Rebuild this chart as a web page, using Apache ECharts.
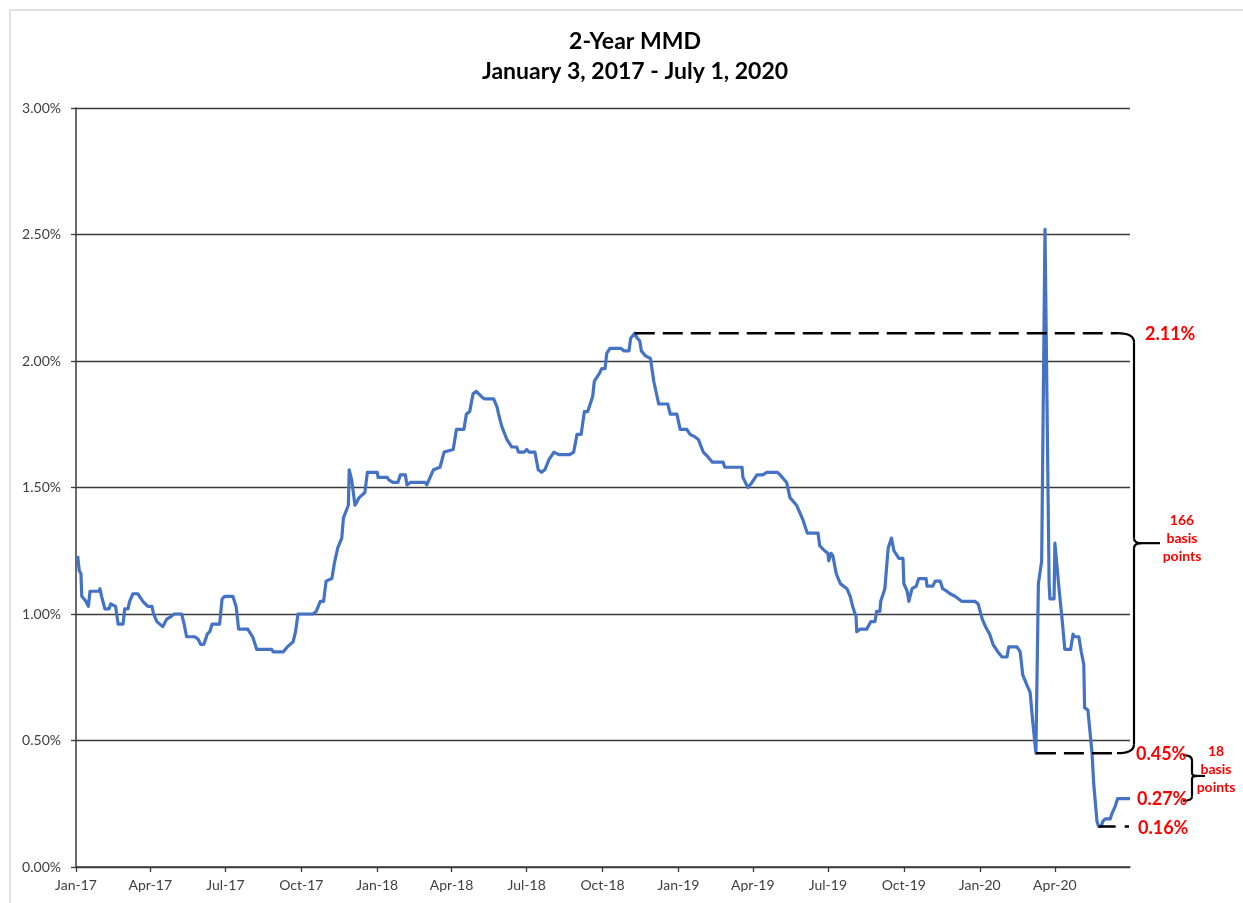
<!DOCTYPE html>
<html>
<head>
<meta charset="utf-8">
<script src="https://cdn.jsdelivr.net/npm/echarts@6/dist/echarts.min.js"></script>
<style>
  html, body { margin: 0; padding: 0; background: #ffffff; }
  #chart { width: 1243px; height: 903px; }
</style>
</head>
<body>
<div id="chart"></div>
<script>
// 2-Year MMD yield, Jan 3 2017 - Jul 1 2020 (percent)
const titleLines = ['2-Year MMD', 'January 3, 2017 - July 1, 2020'];

const dates = [
  '2017-01-03','2017-01-05','2017-01-07','2017-01-08','2017-01-13','2017-01-16','2017-01-18','2017-01-29','2017-01-30',
  '2017-02-01','2017-02-05','2017-02-10','2017-02-12','2017-02-18','2017-02-21','2017-02-27','2017-03-01','2017-03-05',
  '2017-03-07','2017-03-11','2017-03-17','2017-03-23','2017-03-29','2017-04-03','2017-04-05','2017-04-09','2017-04-16',
  '2017-04-21','2017-04-26','2017-04-30','2017-05-09','2017-05-12','2017-05-15','2017-05-25','2017-05-29','2017-06-01',
  '2017-06-05','2017-06-09','2017-06-12','2017-06-15','2017-06-24','2017-06-27','2017-06-30','2017-07-10','2017-07-14',
  '2017-07-17','2017-07-28','2017-08-03','2017-08-08','2017-08-26','2017-08-28','2017-09-09','2017-09-14','2017-09-21',
  '2017-09-24','2017-09-27','2017-10-15','2017-10-19','2017-10-24','2017-10-28','2017-10-31','2017-11-07','2017-11-10',
  '2017-11-14','2017-11-19','2017-11-21','2017-11-27','2017-11-28','2017-12-01','2017-12-05','2017-12-10','2017-12-17',
  '2017-12-20','2018-01-01','2018-01-02','2018-01-13','2018-01-15','2018-01-20','2018-01-26','2018-01-29','2018-02-04',
  '2018-02-06','2018-02-10','2018-02-28','2018-03-02','2018-03-10','2018-03-18','2018-03-23','2018-04-03','2018-04-07',
  '2018-04-16','2018-04-19','2018-04-23','2018-04-27','2018-05-01','2018-05-07','2018-05-11','2018-05-22','2018-05-26',
  '2018-05-28','2018-06-01','2018-06-07','2018-06-13','2018-06-19','2018-06-21','2018-06-28','2018-07-01','2018-07-04',
  '2018-07-11','2018-07-15','2018-07-19','2018-07-23','2018-07-28','2018-08-03','2018-08-09','2018-08-22','2018-08-27',
  '2018-08-31','2018-09-05','2018-09-09','2018-09-13','2018-09-19','2018-09-21','2018-09-27','2018-09-30','2018-10-04',
  '2018-10-06','2018-10-10','2018-10-23','2018-10-27','2018-11-02','2018-11-04','2018-11-09','2018-11-12','2018-11-15',
  '2018-11-17','2018-11-22','2018-11-28','2018-12-02','2018-12-04','2018-12-08','2018-12-19','2018-12-22','2018-12-30',
  '2019-01-03','2019-01-11','2019-01-15','2019-01-21','2019-01-25','2019-01-31','2019-02-06','2019-02-11','2019-02-24',
  '2019-02-26','2019-03-19','2019-03-20','2019-03-26','2019-03-31','2019-04-06','2019-04-13','2019-04-18','2019-05-01',
  '2019-05-04','2019-05-12','2019-05-16','2019-05-24','2019-06-01','2019-06-06','2019-06-19','2019-06-21','2019-06-27',
  '2019-07-01','2019-07-02','2019-07-05','2019-07-07','2019-07-11','2019-07-16','2019-07-24','2019-07-28','2019-07-31',
  '2019-08-04','2019-08-05','2019-08-09','2019-08-17','2019-08-22','2019-08-27','2019-08-29','2019-09-02','2019-09-03',
  '2019-09-08','2019-09-12','2019-09-16','2019-09-19','2019-09-25','2019-09-30','2019-10-01','2019-10-05','2019-10-07',
  '2019-10-11','2019-10-16','2019-10-19','2019-10-28','2019-10-29','2019-11-05','2019-11-08','2019-11-14','2019-11-17',
  '2019-11-22','2019-11-26','2019-12-02','2019-12-06','2019-12-10','2019-12-26','2019-12-30','2020-01-04','2020-01-08',
  '2020-01-13','2020-01-17','2020-01-23','2020-01-28','2020-02-03','2020-02-05','2020-02-15','2020-02-19','2020-02-22',
  '2020-02-27','2020-03-02','2020-03-05','2020-03-09','2020-03-12','2020-03-16','2020-03-20','2020-03-25','2020-03-26',
  '2020-03-31','2020-04-01','2020-04-06','2020-04-10','2020-04-13','2020-04-20','2020-04-23','2020-04-25','2020-04-30',
  '2020-05-03','2020-05-06','2020-05-07','2020-05-11','2020-05-16','2020-05-18','2020-05-22','2020-05-24','2020-05-27',
  '2020-05-29','2020-06-01','2020-06-07','2020-06-09','2020-06-13','2020-06-16','2020-07-01'
];

const yields = [
  1.23,1.17,1.16,1.07,1.05,1.03,1.09,1.09,1.10,
  1.07,1.02,1.02,1.04,1.03,0.96,0.96,1.02,1.02,
  1.05,1.08,1.08,1.05,1.03,1.03,1.00,0.97,0.95,
  0.98,0.99,1.00,1.00,0.96,0.91,0.91,0.90,0.88,
  0.88,0.92,0.93,0.96,0.96,1.06,1.07,1.07,1.03,
  0.94,0.94,0.91,0.86,0.86,0.85,0.85,0.87,0.89,
  0.93,1.00,1.00,1.01,1.05,1.05,1.13,1.14,1.20,
  1.26,1.30,1.38,1.43,1.57,1.53,1.43,1.46,1.48,
  1.56,1.56,1.54,1.54,1.53,1.52,1.52,1.55,1.55,
  1.51,1.52,1.52,1.51,1.57,1.58,1.64,1.65,1.73,
  1.73,1.79,1.80,1.87,1.88,1.86,1.85,1.85,1.82,
  1.79,1.74,1.69,1.66,1.66,1.64,1.64,1.65,1.64,
  1.64,1.57,1.56,1.57,1.61,1.64,1.63,1.63,1.64,
  1.71,1.71,1.80,1.80,1.86,1.92,1.95,1.97,1.97,
  2.03,2.05,2.05,2.04,2.04,2.09,2.11,2.09,2.08,
  2.04,2.02,2.01,1.92,1.92,1.83,1.83,1.79,1.79,
  1.73,1.73,1.71,1.70,1.69,1.64,1.62,1.60,1.60,
  1.58,1.58,1.54,1.50,1.52,1.55,1.55,1.56,1.56,
  1.55,1.52,1.46,1.43,1.37,1.32,1.32,1.27,1.25,
  1.24,1.21,1.24,1.23,1.16,1.12,1.10,1.07,1.03,
  0.99,0.93,0.94,0.94,0.97,0.97,1.01,1.01,1.05,
  1.10,1.26,1.30,1.25,1.22,1.22,1.12,1.09,1.05,
  1.10,1.11,1.14,1.14,1.11,1.11,1.13,1.13,1.10,
  1.09,1.08,1.07,1.06,1.05,1.05,1.04,0.98,0.95,
  0.92,0.88,0.85,0.83,0.83,0.87,0.87,0.85,0.76,
  0.72,0.69,0.58,0.45,1.12,1.21,2.52,1.12,1.06,
  1.06,1.28,1.10,0.97,0.86,0.86,0.92,0.91,0.91,
  0.85,0.80,0.63,0.62,0.45,0.33,0.18,0.16,0.16,
  0.18,0.19,0.19,0.21,0.24,0.27,0.27
];

const tickDates = [
  '2017-01-01','2017-04-01','2017-07-01','2017-10-01','2018-01-01','2018-04-01','2018-07-01',
  '2018-10-01','2019-01-01','2019-04-01','2019-07-01','2019-10-01','2020-01-01','2020-04-01'
];
const tickLabels = [
  'Jan-17','Apr-17','Jul-17','Oct-17','Jan-18','Apr-18','Jul-18',
  'Oct-18','Jan-19','Apr-19','Jul-19','Oct-19','Jan-20','Apr-20'
];
const axisStart = '2017-01-01';
const axisEnd = '2020-07-01';

// Highlighted levels
const peakDate = '2018-11-09';
const peakValue = 2.11;
const marchLowDate = '2020-03-09';
const marchLowValue = 0.45;
const troughDate = '2020-05-24';
const troughValue = 0.16;
const latestValue = 0.27;

function toTime(s) {
  const p = s.split('-').map(Number);
  return Date.UTC(p[0], p[1] - 1, p[2]);
}

const tickTimes = tickDates.map(toTime);
const seriesData = dates.map((d, i) => [toTime(d), yields[i]]);

const FONT = 'Lato, "Open Sans", sans-serif';
const AXIS_DARK = '#3a3a3a';
const LABEL_GREY = '#404040';
const RED = '#ff0000';

const chart = echarts.init(document.getElementById('chart'), null, { renderer: 'canvas' });

chart.setOption({
  animation: false,
  backgroundColor: '#ffffff',
  title: {
    text: titleLines.join('\n'),
    left: 630,
    textAlign: 'center',
    top: 22,
    textStyle: { fontFamily: FONT, fontWeight: 'bold', fontSize: 23, lineHeight: 30, color: '#000000' }
  },
  grid: { left: 76, right: 113, top: 108, bottom: 36 },
  xAxis: {
    // time stored as UTC milliseconds; quarterly ticks placed explicitly
    type: 'value',
    min: toTime(axisStart),
    max: toTime(axisEnd),
    axisLine: { show: true, onZero: false, lineStyle: { color: AXIS_DARK, width: 1.5 } },
    axisTick: { show: true, customValues: tickTimes, length: 5, lineStyle: { color: AXIS_DARK, width: 1.3 } },
    axisLabel: {
      customValues: tickTimes,
      formatter: v => { const i = tickTimes.indexOf(v); return i >= 0 ? tickLabels[i] : ''; },
      fontFamily: FONT, fontSize: 14, color: LABEL_GREY, margin: 11
    },
    splitLine: { show: false }
  },
  yAxis: {
    type: 'value',
    min: 0,
    max: 3,
    interval: 0.5,
    axisLine: { show: true, lineStyle: { color: AXIS_DARK, width: 1.5 } },
    axisTick: { show: true, length: 5, lineStyle: { color: AXIS_DARK, width: 1.3 } },
    axisLabel: {
      formatter: v => v.toFixed(2) + '%',
      fontFamily: FONT, fontSize: 14, color: LABEL_GREY, margin: 15
    },
    splitLine: { show: true, lineStyle: { color: AXIS_DARK, width: 1.3 } }
  },
  series: [{
    type: 'line',
    data: seriesData,
    showSymbol: false,
    symbol: 'none',
    lineStyle: { color: '#4472c4', width: 3.2, join: 'round' },
    z: 3
  }]
});

// Annotation layer: dashed reference levels, braces and red callouts,
// positioned through the chart's own coordinate conversion.
function pt(date, value) {
  return chart.convertToPixel({ seriesIndex: 0 }, [toTime(date), value]);
}

function seg(x1, y1, x2, y2, style) {
  return { type: 'line', shape: { x1, y1, x2, y2 }, style, z: 10, silent: true };
}
function curve(x1, y1, cx, cy, x2, y2, style) {
  return { type: 'bezierCurve', shape: { x1, y1, cpx1: cx, cpy1: cy, x2, y2 }, style, z: 10, silent: true };
}
function label(x, y, text, font, align, lineHeight) {
  return { type: 'text', x, y, z: 10, silent: true,
    style: { text, font, fill: RED, align, verticalAlign: 'middle', lineHeight } };
}

function buildAnnotations() {
  const edge = pt(axisEnd, 0)[0];
  const yPeak = pt(axisEnd, peakValue)[1];
  const yLow = pt(axisEnd, marchLowValue)[1];
  const yLatest = pt(axisEnd, latestValue)[1];
  const yTrough = pt(axisEnd, troughValue)[1];
  const xPeak = pt(peakDate, peakValue)[0];
  const xLow = pt(marchLowDate, marchLowValue)[0];
  const xTrough = pt(troughDate, troughValue)[0];

  const dash = { stroke: '#000000', lineWidth: 2.5, lineDash: [20, 8], fill: null };
  const solid = { stroke: '#000000', lineWidth: 2.2, fill: null };

  // large brace spanning the peak and the March low
  const bx = edge + 4;
  const lead = edge - 13;
  const yMid = (yPeak + yLow) / 2;
  // small brace spanning the March low and the latest level
  const sx = edge + 62;
  const yMid2 = (yLow + yLatest) / 2;

  const bigFont = 'bold 18px ' + FONT;
  const smallFont = 'bold 14px ' + FONT;
  const bpBig = Math.round((peakValue - marchLowValue) * 100);
  const bpSmall = Math.round((marchLowValue - latestValue) * 100);

  return [
    { type: 'rect', shape: { x: 10, y: 10, width: 1260, height: 920 },
      style: { stroke: '#d9d9d9', lineWidth: 1.5, fill: null }, silent: true, z: 0 },

    seg(xPeak, yPeak, lead, yPeak, dash),
    seg(xLow, yLow, lead, yLow, dash),
    seg(xTrough, yTrough, edge - 1, yTrough, { stroke: '#000000', lineWidth: 2.5, lineDash: [17, 9], fill: null }),

    curve(lead, yPeak, bx, yPeak, bx, yPeak + 9, solid),
    seg(bx, yPeak + 9, bx, yMid - 5, solid),
    curve(bx, yMid - 5, bx, yMid, bx + 8, yMid, solid),
    curve(bx + 8, yMid, bx, yMid, bx, yMid + 5, solid),
    seg(bx + 8, yMid, edge + 30, yMid, solid),
    seg(bx, yMid + 5, bx, yLow - 9, solid),
    curve(bx, yLow - 9, bx, yLow, lead, yLow, solid),

    curve(sx - 9, yLow + 2, sx, yLow + 2, sx, yLow + 7, solid),
    seg(sx, yLow + 7, sx, yMid2 - 3, solid),
    curve(sx, yMid2 - 3, sx, yMid2, sx + 5, yMid2, solid),
    curve(sx + 5, yMid2, sx, yMid2, sx, yMid2 + 3, solid),
    seg(sx + 5, yMid2, sx + 13, yMid2, solid),
    seg(sx, yMid2 + 3, sx, yLatest - 2, solid),
    curve(sx, yLatest - 2, sx, yLatest + 2, sx - 9, yLatest + 2, solid),

    label(edge + 15, yPeak + 1, peakValue.toFixed(2) + '%', bigFont, 'left'),
    label(edge + 6, yLow + 1, marchLowValue.toFixed(2) + '%', bigFont, 'left'),
    label(edge + 7, yLatest, latestValue.toFixed(2) + '%', bigFont, 'left'),
    label(edge + 8, yTrough + 2, troughValue.toFixed(2) + '%', bigFont, 'left'),
    label(edge + 52, yMid - 5, bpBig + '\nbasis\npoints', smallFont, 'center', 18),
    label(edge + 86, yMid2 - 6, bpSmall + '\nbasis\npoints', smallFont, 'center', 18)
  ];
}

chart.setOption({ graphic: buildAnnotations() });
</script>
</body>
</html>
